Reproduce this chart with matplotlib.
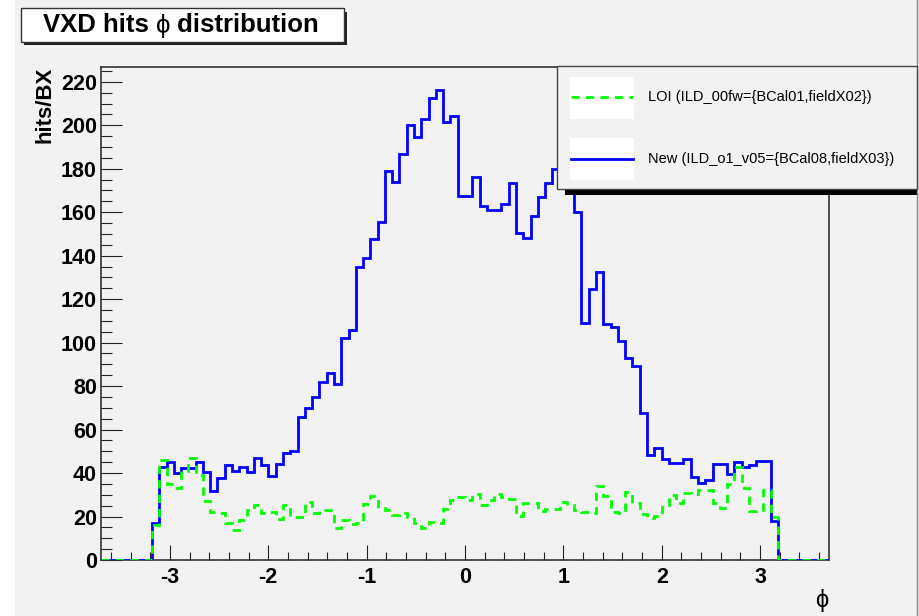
import numpy as np
import matplotlib
matplotlib.use('Agg')
import matplotlib.pyplot as plt
from matplotlib.patches import Rectangle
from matplotlib.lines import Line2D
from matplotlib.text import Annotation
from matplotlib.ticker import MultipleLocator

plt.rcParams['font.family'] = ['Liberation Sans', 'DejaVu Sans']
plt.rcParams['axes.unicode_minus'] = False

""" Histogram contents (hits per bunch crossing, 100 bins in phi) """
phi_lo, phi_hi, n_bins = -3.7, 3.7, 100

# LOI (ILD_00fw)
loi = [0, 0, 0, 0, 0, 0, 0, 16, 46, 35,
       33, 41, 47, 39, 27, 22, 21.8, 17, 13.8, 18.4,
       23, 25.3, 21.8, 22.2, 18.7, 25.3, 20, 20, 26.8, 21.5,
       23, 23, 14.6, 18.4, 16.6, 16.9, 25.6, 29.4, 24, 23,
       20.7, 21.8, 20, 16.9, 14.6, 17.3, 17.2, 23.5, 27.6, 29.1,
       27.6, 30.2, 25.3, 27.6, 30.2, 28.8, 27.9, 20.2, 26, 26.4,
       22.7, 23.3, 23.3, 26.5, 25.3, 23, 22, 21.8, 34.2, 29.4,
       22.2, 21.8, 31.4, 26.4, 21.2, 19.2, 20.2, 25.3, 29.9, 26.4,
       31, 30.4, 32.2, 32.2, 26.4, 23.8, 35, 43, 33, 22.7,
       23, 32.2, 20, 0, 0, 0, 0, 0, 0, 0]

# New (ILD_o1_v05)
new = [0, 0, 0, 0, 0, 0, 0, 17, 43, 45,
       40, 42.5, 42.5, 45.2, 40.3, 31.7, 37.9, 43.7, 41.1, 42.9,
       40.6, 47, 43.7, 38.6, 44, 49, 50.3, 66, 70, 75,
       82, 86, 81, 102, 106, 135, 139, 147.5, 155.7, 179,
       174, 186.7, 200, 194.8, 202.8, 212.7, 216, 201.7, 204.4, 167.6,
       167.6, 176.4, 163, 161, 161, 164, 173.3, 150.3, 148, 158.3,
       167, 173.6, 180, 178, 176, 160, 109, 124.5, 132.7, 108.5,
       107, 100.8, 93, 89.2, 67.6, 48.2, 51.5, 46.6, 44.6, 44.6,
       46.5, 38.4, 35.4, 37, 44, 44, 39.5, 44.9, 42.9, 43.7,
       45.7, 45.7, 18, 0, 0, 0, 0, 0, 0, 0]

labels = ['LOI (ILD_00fw={BCal01,fieldX02})',
          'New (ILD_o1_v05={BCal08,fieldX03})']
colors = ['#00ff00', '#0000ff']
styles = [(0, (3, 2.2)), '-']

edges = np.linspace(phi_lo, phi_hi, n_bins + 1)

W, H = 919, 616
bg = '#f2f2f2'
PHI = '\u03d5'


def fx(x):
    return x / W


def fy(y):
    return 1 - y / H


def box(x0, y0, x1, y1, **kw):
    # rectangle given in pixel coordinates from the top left corner
    fig.add_artist(Rectangle((fx(x0), fy(y1)), (x1 - x0) / W, (y1 - y0) / H,
                             transform=fig.transFigure, **kw))


fig = plt.figure(figsize=(W / 100, H / 100), dpi=100, facecolor=bg)
box(0, 0, 15, H, facecolor='white', edgecolor='none')
fig.add_artist(Line2D([fx(916.5)] * 2, [0, 1], transform=fig.transFigure,
                      color='#888888', lw=1))

ax = fig.add_axes([fx(101), fy(560), (829 - 101) / W, (560 - 67) / H])
ax.set_facecolor(bg)

ax.stairs(new, edges, color=colors[1], lw=2, zorder=3)
ax.stairs(loi, edges, color=colors[0], lw=2, linestyle=styles[0], zorder=4)

ax.set_xlim(phi_lo, phi_hi)
ax.set_ylim(0, max(new) * 1.05)

ax.xaxis.set_major_locator(MultipleLocator(1))
ax.xaxis.set_minor_locator(MultipleLocator(0.2))
ax.yaxis.set_major_locator(MultipleLocator(20))
ax.yaxis.set_minor_locator(MultipleLocator(5))

ax.tick_params(axis='both', which='both', direction='in', top=False,
               right=False, width=0.8, color='#222222')
ax.tick_params(axis='y', which='major', length=15, pad=3)
ax.tick_params(axis='y', which='minor', length=8)
ax.tick_params(axis='x', which='major', length=11, pad=5)
ax.tick_params(axis='x', which='minor', length=5.5)
for lab in ax.get_xticklabels() + ax.get_yticklabels():
    lab.set_fontsize(15.5)
    lab.set_fontweight('bold')

for sp in ax.spines.values():
    sp.set_color('#333333')
    sp.set_linewidth(1.2)

# axis titles
fig.text(fx(45), fy(67), 'hits/BX', rotation=90, ha='center', va='top',
         fontsize=16, fontweight='bold')
fig.text(fx(822), fy(600), PHI, ha='center', va='center', fontsize=17)

# title box with shadow
box(24, 12, 347, 45, facecolor='#222222', edgecolor='none')
box(20.5, 8.5, 343.5, 42, facecolor='white', edgecolor='#333333', lw=1)
t1 = fig.text(fx(43), fy(25.5), 'VXD hits ', ha='left', va='center',
              fontsize=18.5, fontweight='bold')
t2 = fig.add_artist(Annotation(PHI, xy=(1, 0), xycoords=t1, ha='left',
                               va='bottom', fontsize=18.5))
fig.add_artist(Annotation(' distribution', xy=(1, 0), xycoords=t2,
                          ha='left', va='bottom', fontsize=18.5,
                          fontweight='bold'))

# legend with shadow
box(565, 189, 917, 195, facecolor='black', edgecolor='none')
box(557, 66, 917, 189, facecolor=bg, edgecolor='#444444', lw=1, zorder=5)
for (y0, y1), yc, col, ls, lab in zip([(77, 119), (138, 180)], [97, 159],
                                      colors, styles, labels):
    box(570, y0, 634, y1, facecolor='white', edgecolor='none', zorder=6)
    fig.add_artist(Line2D([fx(571), fx(633)], [fy(yc), fy(yc)],
                          transform=fig.transFigure, color=col, lw=2,
                          linestyle=ls, zorder=7))
    fig.text(fx(648), fy(yc), lab, ha='left', va='center', fontsize=10.5,
             zorder=7)

fig.savefig('out.png', dpi=100, facecolor=bg)
